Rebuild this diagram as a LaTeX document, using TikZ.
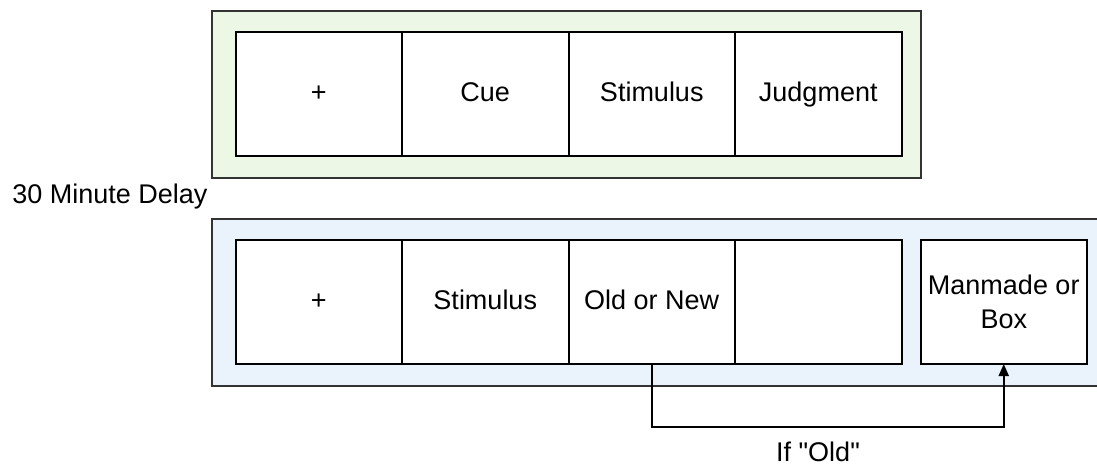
\documentclass[tikz,border=0pt]{standalone}
\usepackage{fontspec}
\setmainfont{Liberation Sans}
\usetikzlibrary{positioning,arrows.meta}
\definecolor{studyfill}{HTML}{EDF7E5}
\definecolor{testfill}{HTML}{EAF3FC}
\definecolor{framegray}{HTML}{333333}
\tikzset{
  panel/.style={draw, line width=1pt, fill=white, minimum width=83.25pt,
    minimum height=62pt, inner sep=0pt, outer sep=0pt, align=center,
    font=\fontsize{13.5}{17}\selectfont},
  cell/.style={panel, text height=10pt, text depth=3pt},
  frame/.style={draw=framegray, line width=1pt},
  label text/.style={font=\fontsize{13.5}{17}\selectfont, inner sep=0pt},
  link/.style={line width=1pt, -{Triangle[length=6pt,width=5pt]}},
}

\begin{document}
\begin{tikzpicture}[x=0.5pt,y=-0.5pt]
\useasboundingbox (0,0) rectangle (1097,466);
% study phase
\draw[frame, fill=studyfill] (212,11) rectangle (921,178);
\node[cell, anchor=north west] (fixA) at (235.5,32) {+};
\node[cell, right=0pt of fixA] (cue) {Cue};
\node[cell, right=0pt of cue] (stimA) {Stimulus};
\node[cell, right=0pt of stimA] (judge) {Judgment};

\node[label text] (delay) at (110,197) {30 Minute Delay};

% test phase
\fill[testfill] (212,219) rectangle (1100,386);
\draw[frame] (1100,219) -- (212,219) -- (212,386) -- (1100,386);
\node[cell, anchor=north west] (fixB) at (235.5,240) {+};
\node[cell, right=0pt of fixB] (stimB) {Stimulus};
\node[cell, right=0pt of stimB] (oldnew) {Old or New};
\node[cell, right=0pt of oldnew] (blank) {};
\node[panel, right=9.5pt of blank] (manmade) {Manmade or\\Box};

\draw[link] (oldnew.south) -- ++(0,63) -| (manmade.south);
\node[label text] (ifold) at (818,452) {If \textquotedbl Old\textquotedbl};
\end{tikzpicture}
\end{document}
